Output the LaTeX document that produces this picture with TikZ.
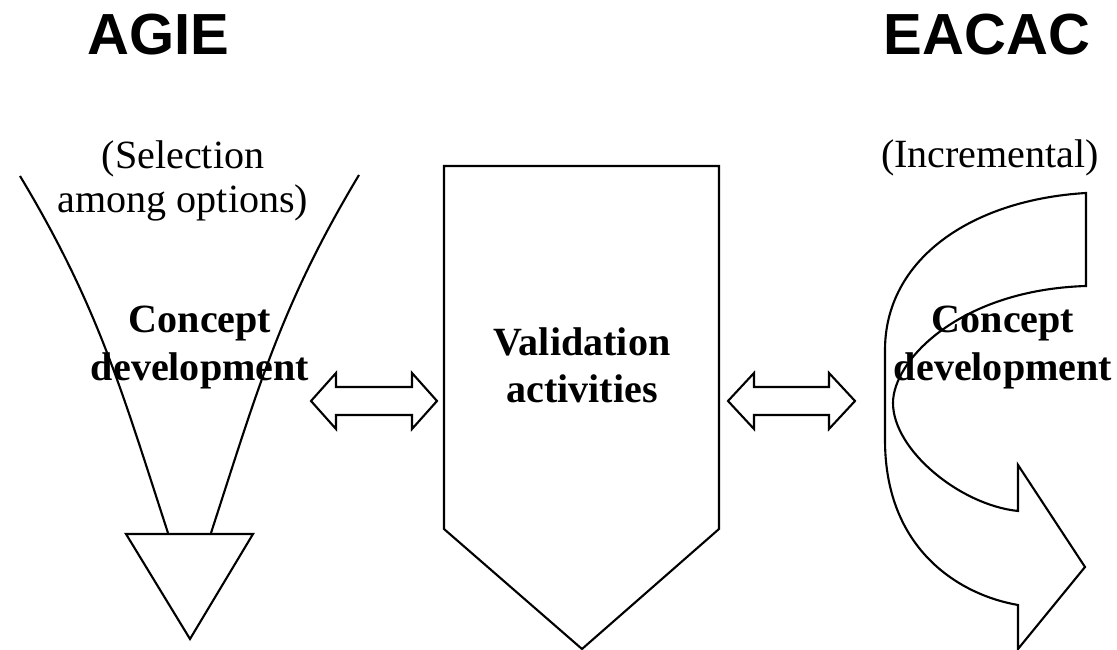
\documentclass[tikz,border=0pt]{standalone}
\usepackage{fontspec}
\setmainfont{Liberation Serif}
\newfontfamily\titlefont{Liberation Sans}
\usetikzlibrary{calc}

\begin{document}
\begin{tikzpicture}[title/.style={inner sep=0pt, font=\titlefont\bfseries\fontsize{16.5}{18}\selectfont},
  note/.style={inner sep=0pt, align=center, font=\fontsize{11.4}{12.5}\selectfont},
  txt/.style={inner sep=0pt, align=center, font=\bfseries\fontsize{11.4}{13.4}\selectfont},
  line width=0.6pt, scale=1]

\useasboundingbox (0,0) rectangle (11.17,6.5);

\node[title] (agie) at (1.585,6.15) {AGIE};
\node[title] (eacac) at (9.87,6.15) {EACAC};

% funnel
\draw (0.20,4.74) to[out=-59,in=108] (1.68,1.17);
\draw (3.59,4.75) to[out=-121,in=72] (2.11,1.17);
\draw (1.26,1.16) -- (2.53,1.16) -- (1.90,0.11) -- cycle;
\node[note] (sel) at (1.83,4.69) {(Selection\\among options)};
\node[txt] (cd1) at (2.00,3.025) {Concept\\development};

% validation
\draw (4.44,4.84) -- (7.19,4.84) -- (7.19,1.21) -- (5.82,0.01) -- (4.44,1.21) -- cycle;
\node[txt] (val) at (5.82,2.845) {Validation\\activities};

% double arrows
\draw (3.11,2.49) -- (3.36,2.77) -- (3.36,2.63) -- (4.12,2.63) -- (4.12,2.77) -- (4.37,2.49)
  -- (4.12,2.21) -- (4.12,2.35) -- (3.36,2.35) -- (3.36,2.21) -- cycle;
\draw (7.28,2.49) -- (7.54,2.77) -- (7.54,2.63) -- (8.29,2.63) -- (8.29,2.77) -- (8.55,2.49)
  -- (8.29,2.21) -- (8.29,2.35) -- (7.54,2.35) -- (7.54,2.21) -- cycle;

% curved arrow
\draw (10.86,4.57) .. controls (9.7,4.5) and (8.85,3.9) .. (8.85,3.0) -- (8.85,2.1)
  .. controls (8.85,1.0) and (9.6,0.55) .. (10.18,0.45) -- (10.18,0.01) -- (10.85,0.83)
  -- (10.18,1.85) -- (10.18,1.39)
  .. controls (9.6,1.45) and (8.93,2.0) .. (8.93,2.47)
  .. controls (8.93,2.9) and (9.6,3.6) .. (10.86,3.64) -- cycle;
\node[note] (inc) at (9.90,4.925) {(Incremental)};
\node[txt] (cd2) at (10.03,3.025) {Concept\\development};
\end{tikzpicture}
\end{document}
